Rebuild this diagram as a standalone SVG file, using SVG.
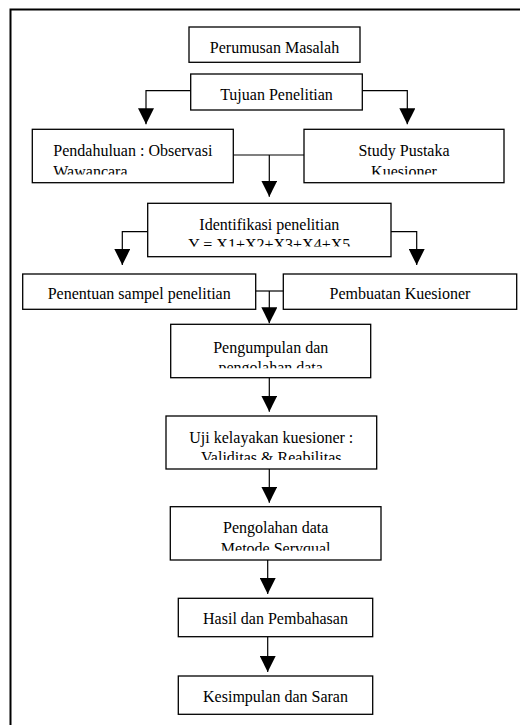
<svg xmlns="http://www.w3.org/2000/svg" width="520" height="725" viewBox="0 0 520 725">
<style>
.box{fill:#fff;stroke:#000;stroke-width:1.3}
.t{font-family:"Liberation Serif","Times New Roman",serif;font-size:16px;fill:#000}
.c{text-anchor:middle}
.ln{fill:none;stroke:#000;stroke-width:1.2}
</style>
<defs>
<marker id="ah" markerUnits="userSpaceOnUse" markerWidth="16" markerHeight="16" refX="16" refY="8" orient="auto" viewBox="0 0 16 16">
<path d="M0,0 L16,8 L0,16 z" fill="#000"/>
</marker>
<clipPath id="cp1"><rect x="30" y="128" width="210" height="46.5"/></clipPath>
<clipPath id="cp2"><rect x="300" y="128" width="210" height="46.5"/></clipPath>
<clipPath id="cp3"><rect x="145" y="202" width="250" height="44.5"/></clipPath>
<clipPath id="cp4"><rect x="168" y="322" width="205" height="46.3"/></clipPath>
<clipPath id="cp5"><rect x="164" y="414" width="215" height="46"/></clipPath>
<clipPath id="cp6"><rect x="168" y="505" width="215" height="45.7"/></clipPath>
</defs>
<rect x="10.5" y="9.5" width="600" height="800" fill="none" stroke="#000" stroke-width="2"/>
<g id="connectors">
<path class="ln" d="M190.7,90.7 H146 V124.3" marker-end="url(#ah)"/>
<path class="ln" d="M362.3,90.7 H407.3 V124.3" marker-end="url(#ah)"/>
<path class="ln" d="M233.3,155 H304"/>
<path class="ln" d="M269.3,155 V196.7" marker-end="url(#ah)"/>
<path class="ln" d="M147.7,231.7 H122.3 V265" marker-end="url(#ah)"/>
<path class="ln" d="M391,231.7 H416.7 V265" marker-end="url(#ah)"/>
<path class="ln" d="M255.7,291 H283.3"/>
<path class="ln" d="M269.3,291 V323.3" marker-end="url(#ah)"/>
<path class="ln" d="M269.3,377.7 V411.7" marker-end="url(#ah)"/>
<path class="ln" d="M269.3,469 V502.7" marker-end="url(#ah)"/>
<path class="ln" d="M267.7,560 V594" marker-end="url(#ah)"/>
<path class="ln" d="M267.7,636.7 V672" marker-end="url(#ah)"/>
</g>
<g id="perumusan">
<rect class="box" x="189" y="27" width="171" height="35.3"/>
<text class="t c" x="274.5" y="52.5">Perumusan Masalah</text>
</g>
<g id="tujuan">
<rect class="box" x="190.7" y="74" width="171.6" height="36"/>
<text class="t c" x="276.5" y="99.5">Tujuan Penelitian</text>
</g>
<g id="pendahuluan">
<rect class="box" x="32.3" y="129.3" width="201" height="53.4"/>
<text class="t" x="53.3" y="156" clip-path="url(#cp1)">Pendahuluan : Observasi<tspan x="53.3" y="176.7">Wawancara</tspan></text>
</g>
<g id="study">
<rect class="box" x="304" y="129.3" width="200" height="53.4"/>
<text class="t c" x="404" y="156" clip-path="url(#cp2)">Study Pustaka<tspan x="404" y="176.7">Kuesioner</tspan></text>
</g>
<g id="identifikasi">
<rect class="box" x="147.7" y="203.3" width="243.3" height="53.4"/>
<text class="t c" x="269.3" y="229.5" clip-path="url(#cp3)">Identifikasi penelitian<tspan x="269.3" y="250.2">Y = X1+X2+X3+X4+X5</tspan></text>
</g>
<g id="penentuan">
<rect class="box" x="22.7" y="274" width="233" height="35.3"/>
<text class="t c" x="139.2" y="298.5">Penentuan sampel penelitian</text>
</g>
<g id="pembuatan">
<rect class="box" x="283.3" y="274" width="233.4" height="35.3"/>
<text class="t c" x="400" y="298.5">Pembuatan Kuesioner</text>
</g>
<g id="pengumpulan">
<rect class="box" x="170.7" y="324.3" width="200" height="53.4"/>
<text class="t c" x="270.7" y="352.5" clip-path="url(#cp4)">Pengumpulan dan<tspan x="270.7" y="373.2">pengolahan data</tspan></text>
</g>
<g id="uji">
<rect class="box" x="166" y="416" width="210.7" height="53"/>
<text class="t c" x="271.3" y="442.7" clip-path="url(#cp5)">Uji kelayakan kuesioner :<tspan x="271.3" y="463.4">Validitas &amp; Reabilitas</tspan></text>
</g>
<g id="pengolahan">
<rect class="box" x="170.3" y="506.7" width="210.7" height="53.3"/>
<text class="t c" x="275.7" y="533.3" clip-path="url(#cp6)">Pengolahan data<tspan x="275.7" y="554">Metode Servqual</tspan></text>
</g>
<g id="hasil">
<rect class="box" x="178.3" y="598.3" width="194.4" height="38.4"/>
<text class="t c" x="275.5" y="624">Hasil dan Pembahasan</text>
</g>
<g id="kesimpulan">
<rect class="box" x="178.3" y="676" width="194.4" height="38.3"/>
<text class="t c" x="275.5" y="702.3">Kesimpulan dan Saran</text>
</g>
</svg>
